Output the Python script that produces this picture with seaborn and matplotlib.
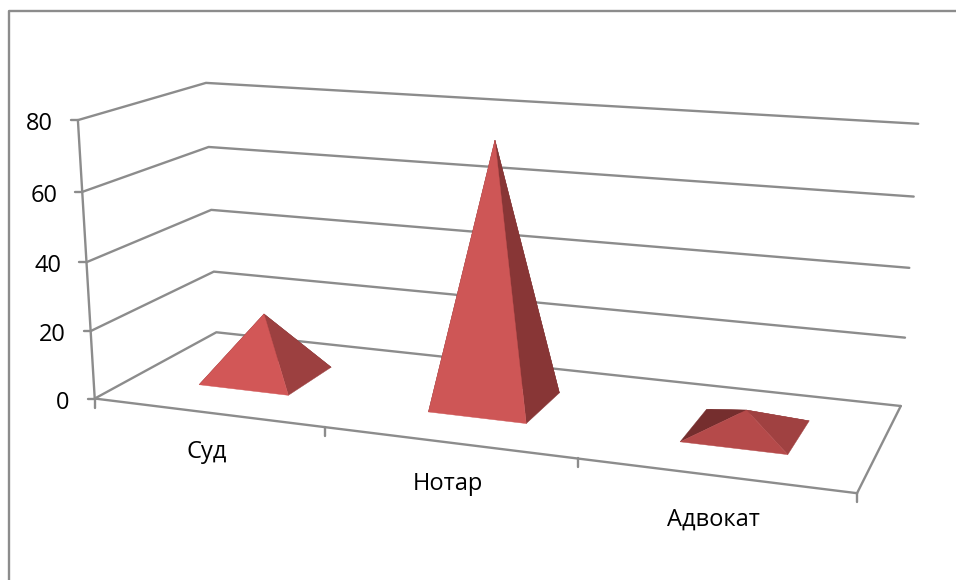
import numpy as np
import pandas as pd
import matplotlib
matplotlib.use("Agg")
import matplotlib.pyplot as plt
from matplotlib.patches import Polygon
import seaborn as sns

# Chart data
categories = ["Суд", "Нотар", "Адвокат"]
values = [19, 75, 6]
value_ticks = [0, 20, 40, 60, 80]

# Shades of each pyramid: front, right, left and back faces
front_colors = ["#D25757", "#CE5656", "#B54A4A"]
right_colors = ["#9C4040", "#883636", "#A04141"]
left_colors = ["#752E2E", "#752E2E", "#752E2E"]
back_colors = ["#752E2E", "#752E2E", "#8A3A3A"]

GRID = "#8C8C8C"
LINE_W = 1.7
sns.set_style("white")
plt.rcParams["font.family"] = ["Open Sans", "DejaVu Sans"]

fig = plt.figure(figsize=(9.56, 5.80), dpi=100)
ax = fig.add_axes([0, 0, 1, 1])
ax.set_xlim(0, 956)
ax.set_ylim(580, 0)
ax.axis("off")

# Perspective camera fitted on the box corners (category, depth, value) -> screen
anchors_box = np.array([
    [0, 0, 0], [0, 0, 20], [0, 0, 40], [0, 0, 60], [0, 0, 80],
    [0, 1, 0], [0, 1, 20], [0, 1, 40], [0, 1, 60], [0, 1, 80],
    [3, 1, 0], [3, 1, 20], [3, 1, 40], [3, 1, 60], [3, 1, 80],
    [3, 0, 0],
], dtype=float)
anchors_screen = np.array([
    [95, 399], [91, 331], [87, 262], [82, 192], [77, 120],
    [216, 332], [213.5, 271.5], [211, 210], [208.5, 147], [207, 83],
    [900, 406], [905, 338], [911, 268], [914, 196], [917, 124],
    [857, 493],
], dtype=float)


def fit_camera(box, screen):
    rows, rhs = [], []
    for (x, y, z), (u, v) in zip(box, screen):
        rows.append([x, y, z, 1, 0, 0, 0, 0, -u * x, -u * y, -u * z])
        rows.append([0, 0, 0, 0, x, y, z, 1, -v * x, -v * y, -v * z])
        rhs += [u, v]
    sol = np.linalg.lstsq(np.array(rows), np.array(rhs), rcond=None)[0]
    return np.append(sol, 1).reshape(3, 4)


CAM = fit_camera(anchors_box, anchors_screen)


def project(x, depth, value):
    h = CAM @ np.array([x, depth, value, 1.0])
    return h[0] / h[2], h[1] / h[2]


# Gridlines: side wall and back wall at every value tick
rows = []
for tick in value_ticks:
    for x, d in [(0, 0), (0, 1), (3, 1)]:
        sx, sy = project(x, d, tick)
        rows.append({"level": tick, "sx": sx, "sy": sy})
grid_df = pd.DataFrame(rows)
sns.lineplot(data=grid_df, x="sx", y="sy", units="level", estimator=None, sort=False,
             color=GRID, lw=LINE_W, legend=False, ax=ax)
ax.set_xlim(0, 956)
ax.set_ylim(580, 0)


def segment(p, q):
    ax.plot([p[0], q[0]], [p[1], q[1]], color=GRID, lw=LINE_W, solid_capstyle="round")


# Value axis and floor outline
segment(project(0, 0, 0), project(0, 0, value_ticks[-1]))
segment(project(0, 0, 0), project(3, 0, 0))
segment(project(3, 0, 0), project(3, 1, 0))

# Tick marks and value labels
for tick in value_ticks:
    sx, sy = project(0, 0, tick)
    ax.plot([sx - 7, sx], [sy, sy], color=GRID, lw=LINE_W)
    ax.text(sx - 25, sy + 4, str(tick), ha="right", va="center", fontsize=17, color="black")
for i in range(len(categories) + 1):
    sx, sy = project(i, 0, 0)
    ax.plot([sx, sx], [sy, sy + 9], color=GRID, lw=LINE_W)

# Category labels under the front floor edge
for i, name in enumerate(categories):
    sx, sy = project(i + 0.5, 0, 0)
    ax.text(sx, sy + 40 + 2 * i, name, ha="center", va="center", fontsize=17, color="black")

# Pyramids, with the faces painted from the back to the front
HALF = 0.2
for i, value in enumerate(values):
    cx = i + 0.5
    fl = project(cx - HALF, 0.5 - HALF, 0)
    fr = project(cx + HALF, 0.5 - HALF, 0)
    br = project(cx + HALF, 0.5 + HALF, 0)
    bl = project(cx - HALF, 0.5 + HALF, 0)
    apex = project(cx, 0.5, value)
    faces = [
        ([bl, br, apex], back_colors[i]),
        ([fl, bl, apex], left_colors[i]),
        ([fr, br, apex], right_colors[i]),
        ([fl, fr, apex], front_colors[i]),
    ]
    for pts, color in faces:
        ax.add_patch(Polygon(pts, closed=True, facecolor=color, edgecolor=color, lw=0.3, zorder=5))

# Outer chart frame, running off the right and bottom of the canvas
ax.plot([9.5, 9.5, 960], [590, 10.5, 10.5], color=GRID, lw=LINE_W)

fig.savefig("out.png", dpi=100)
